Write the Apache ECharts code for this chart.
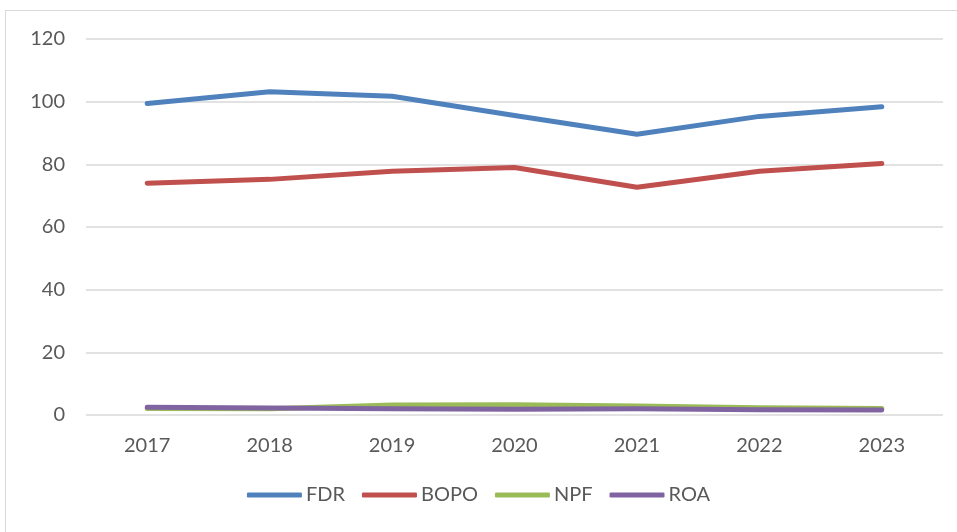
<!DOCTYPE html>
<html><head><meta charset="utf-8">
<script src="https://cdn.jsdelivr.net/npm/echarts@6/dist/echarts.min.js"></script>
<style>html,body{margin:0;padding:0;background:#fff}#c{width:957px;height:532px}
#frame{position:absolute;left:5px;top:10px;width:960px;height:540px;border:1px solid #d9d9d9;box-sizing:border-box;pointer-events:none}</style>
</head><body><div id="c"></div><div id="frame"></div>
<script>
const years = ['2017','2018','2019','2020','2021','2022','2023'];
const FDR = [99.4, 103.2, 101.7, 95.6, 89.6, 95.3, 98.4];
const BOPO = [74.0, 75.2, 77.8, 79.0, 72.7, 77.8, 80.3];
const NPF = [2.1, 2.0, 3.2, 3.3, 2.9, 2.3, 2.1];
const ROA = [2.5, 2.2, 2.0, 1.8, 2.0, 1.7, 1.6];
const names = ['FDR','BOPO','NPF','ROA'];
const colors = ['#4f81bd','#c0504d','#9bbb59','#8064a2'];
const data = [FDR, BOPO, NPF, ROA];
const font = 'Lato, "Open Sans", sans-serif';
const chart = echarts.init(document.getElementById('c'));
chart.setOption({
  animation:false,
  color: colors,
  grid:{left:86, right:14, top:39, bottom:117, containLabel:false},
  legend:{
    data:names, bottom:22, left:'center', itemWidth:55, itemHeight:5, itemGap:17,
    icon:'roundRect',
    textStyle:{fontFamily:font, fontSize:20, color:'#595959', padding:[0,0,0,-1]}
  },
  xAxis:{type:'category', data:years, boundaryGap:true,
    axisLine:{show:false}, axisTick:{show:false},
    axisLabel:{fontFamily:font, fontSize:20, color:'#595959', margin:21}},
  yAxis:{type:'value', min:0, max:120, interval:20,
    splitLine:{lineStyle:{color:'#d9d9d9', width:1.5}},
    axisLine:{show:false}, axisTick:{show:false},
    axisLabel:{fontFamily:font, fontSize:20, color:'#595959', margin:21}},
  series: names.map((n,i)=>({name:n, type:'line', data:data[i], symbol:'none',
    lineStyle:{width:5, cap:'round', join:'round', color:colors[i]}, z:2+i}))
});
</script></body></html>
